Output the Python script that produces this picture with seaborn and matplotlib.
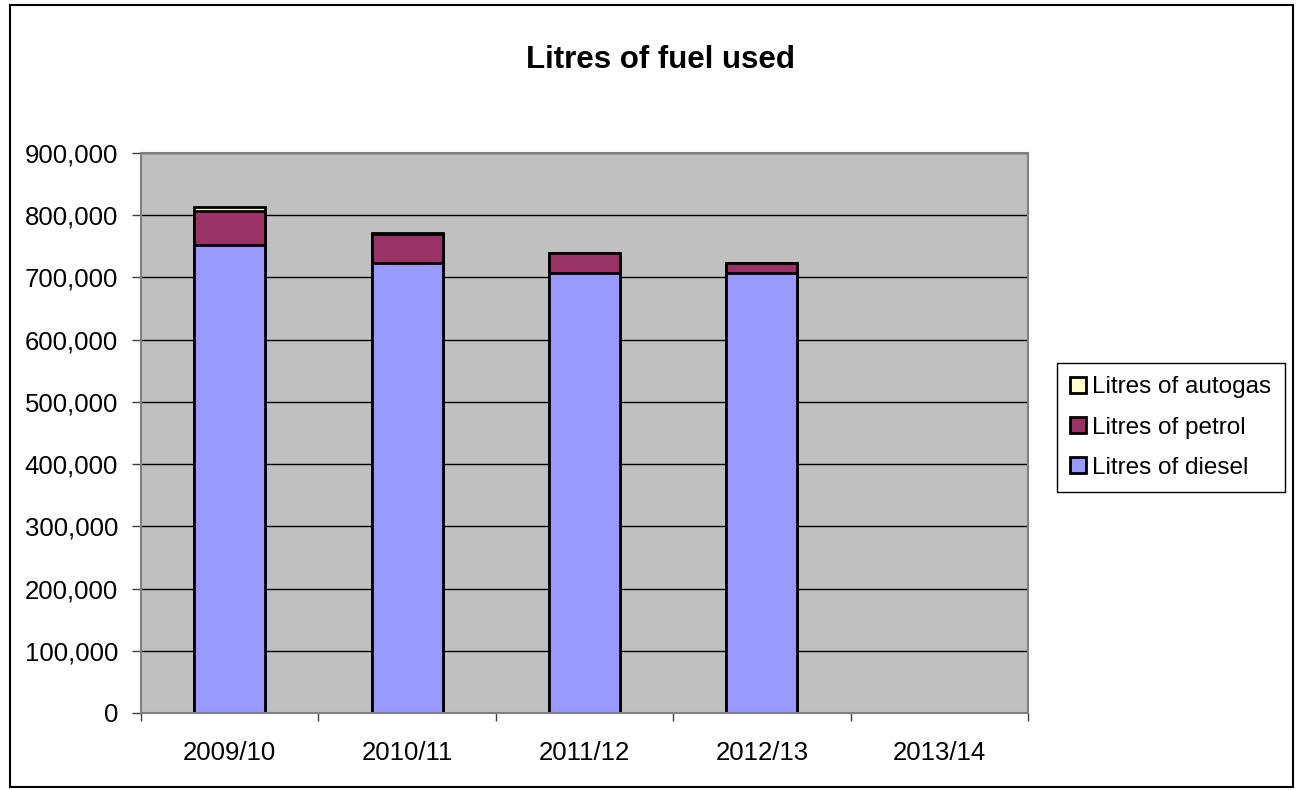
import matplotlib
matplotlib.use("Agg")
import matplotlib.pyplot as plt
import matplotlib.ticker as mticker
from matplotlib.patches import Patch, Rectangle
import seaborn as sns
import pandas as pd
import numpy as np

years = ["2009/10", "2010/11", "2011/12", "2012/13", "2013/14"]
data_years = ["2009/10", "2010/11", "2011/12", "2012/13"]
diesel = [752000, 723000, 707500, 706500]
petrol = [54000, 47500, 32000, 16500]
autogas = [7000, 1000, 0, 0]

sns.set_theme(style="white")
plt.rcParams['font.family'] = ['Liberation Sans', 'DejaVu Sans']
plt.rcParams['text.color'] = 'black'
plt.rcParams['xtick.color'] = 'black'
plt.rcParams['ytick.color'] = 'black'
plt.rcParams['xtick.labelcolor'] = 'black'
plt.rcParams['ytick.labelcolor'] = 'black'

df = pd.DataFrame({"year": data_years, "diesel": diesel, "petrol": petrol, "autogas": autogas})
df["c_petrol"] = df["diesel"] + df["petrol"]
df["c_autogas"] = df["c_petrol"] + df["autogas"]

c_diesel = "#9999FF"
c_petrol = "#993366"
c_autogas = "#FFFFCC"

fig = plt.figure(figsize=(12.96, 7.9), dpi=100)
ax = fig.add_axes([141/1296, 77/790, 887/1296, 560/790])
ax.set_facecolor("#C0C0C0")

for col, colr in [("c_autogas", c_autogas), ("c_petrol", c_petrol), ("diesel", c_diesel)]:
    sns.barplot(data=df, x="year", y=col, order=years, color=colr, width=0.4,
                edgecolor="black", linewidth=2, errorbar=None, saturation=1, ax=ax)

ax.set_xlim(-0.5, 4.5)
ax.set_ylim(0, 900000)
ax.yaxis.set_major_locator(mticker.MultipleLocator(100000))
ax.yaxis.set_major_formatter(mticker.FuncFormatter(lambda v, p: f"{int(v):,}"))
ax.grid(axis="y", color="black", linewidth=1)
ax.set_axisbelow(True)
ax.set_xlabel("")
ax.set_ylabel("")

ax.set_xticks(range(len(years)))
ax.set_xticklabels(years)
ax.set_xticks(np.arange(-0.5, 5.0, 1.0), minor=True)
ax.tick_params(axis="x", which="major", length=0, pad=20, labelsize=18.5, labelcolor="black")
ax.tick_params(axis="x", which="minor", length=6, width=1, color="#404040", bottom=True, direction="out")
ax.tick_params(axis="y", which="major", length=6.5, width=1, color="#404040", pad=10, labelsize=18.5,
               left=True, direction="out", labelcolor="black")

for s in ax.spines.values():
    s.set_color("#808080")
    s.set_linewidth(1.5)

fig.text(661/1296, 1 - 60/790, "Litres of fuel used", ha="center", va="center",
         fontsize=22.5, fontweight="bold", color="black")

handles = [Patch(facecolor=c_autogas, edgecolor="black", linewidth=2, label="Litres of autogas"),
           Patch(facecolor=c_petrol, edgecolor="black", linewidth=2, label="Litres of petrol"),
           Patch(facecolor=c_diesel, edgecolor="black", linewidth=2, label="Litres of diesel")]
leg = fig.legend(handles=handles, loc="upper left", bbox_to_anchor=(1057/1296, 1 - 363/790),
                 bbox_transform=fig.transFigure, borderaxespad=0, fontsize=17.5,
                 frameon=True, fancybox=False, edgecolor="black", framealpha=1,
                 handlelength=0.65, handleheight=0.65, handletextpad=0.25,
                 labelspacing=0.75, borderpad=0.55)
leg.get_frame().set_linewidth(1)
for t in leg.get_texts():
    t.set_color("black")

fig.patches.append(Rectangle((9.5/1296, 3/790), (1293-9.5)/1296, (785-3)/790,
                             transform=fig.transFigure, fill=False, edgecolor="black", linewidth=1.5))

fig.savefig("out.png", dpi=100)
